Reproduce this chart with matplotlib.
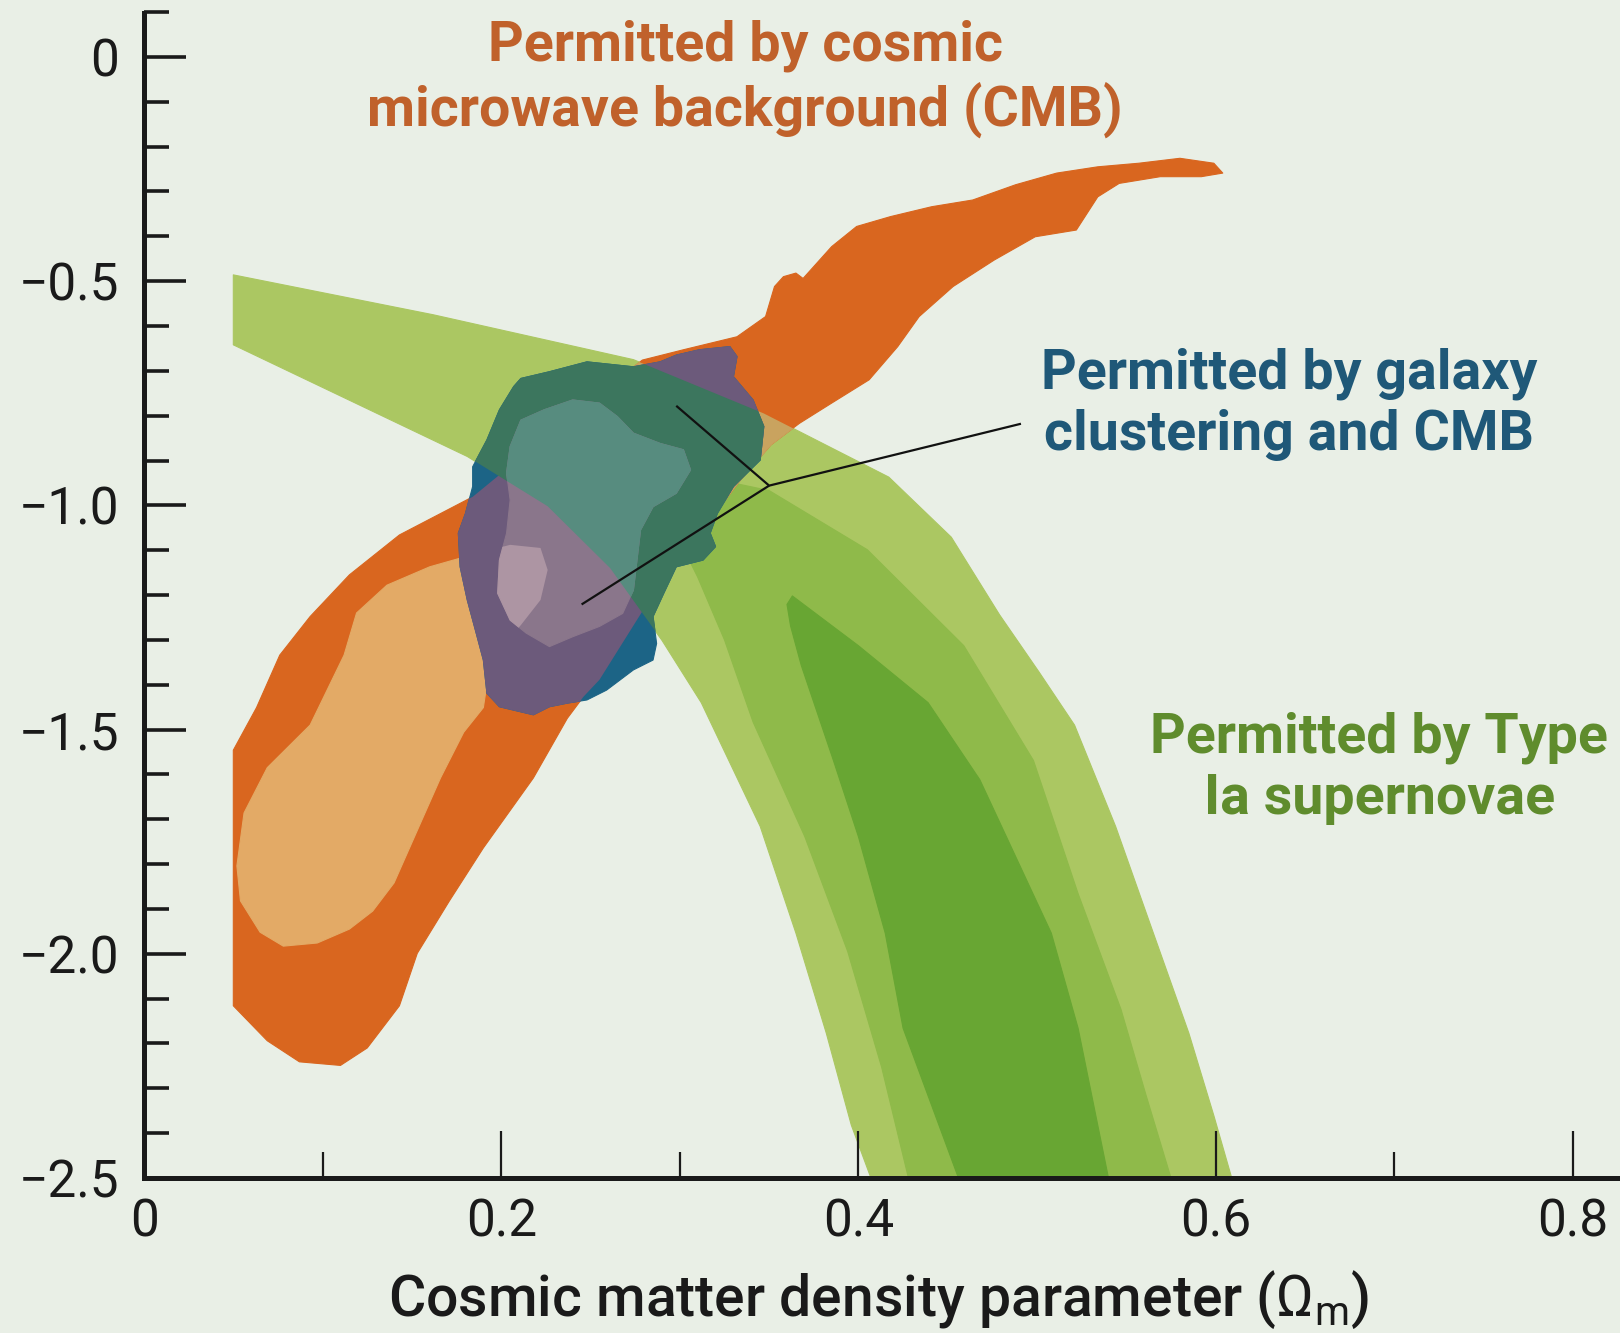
import matplotlib
matplotlib.use("Agg")
import matplotlib.pyplot as plt
from matplotlib.patches import Polygon
from matplotlib.ticker import FixedLocator, MultipleLocator

plt.rcParams["font.family"] = ["Roboto", "DejaVu Sans"]
plt.rcParams["mathtext.fontset"] = "custom"
plt.rcParams["mathtext.rm"] = "Roboto"
plt.rcParams["mathtext.it"] = "Roboto:italic"

# --- contour outlines (Omega_m, w) ---
sn_outer_x = [0.050, 0.162, 0.274, 0.347, 0.417, 0.452, 0.479, 0.501, 0.521, 0.544, 0.563,
              0.585, 0.599, 0.609, 0.612, 0.407, 0.407, 0.396, 0.382, 0.365, 0.345, 0.312,
              0.290, 0.261, 0.226, 0.181, 0.050]
sn_outer_y = [-0.486, -0.575, -0.675, -0.795, -0.937, -1.071, -1.244, -1.371, -1.490, -1.716,
              -1.930, -2.177, -2.361, -2.500, -2.600, -2.600, -2.500, -2.382, -2.177, -1.954,
              -1.716, -1.440, -1.301, -1.140, -1.002, -0.891, -0.642]

sn_mid_x = [0.266, 0.295, 0.350, 0.405, 0.459, 0.498, 0.523, 0.547, 0.561, 0.575, 0.577,
            0.428, 0.428, 0.413, 0.394, 0.370, 0.341, 0.325, 0.310, 0.290]
sn_mid_y = [-0.910, -0.921, -0.967, -1.099, -1.313, -1.569, -1.866, -2.124, -2.315, -2.500,
            -2.600, -2.600, -2.500, -2.253, -1.995, -1.739, -1.483, -1.300, -1.160, -1.000]

sn_inner_x = [0.363, 0.400, 0.439, 0.468, 0.488, 0.508, 0.523, 0.540, 0.541, 0.456, 0.456,
              0.425, 0.415, 0.400, 0.386, 0.368, 0.362, 0.360]
sn_inner_y = [-1.202, -1.313, -1.440, -1.612, -1.783, -1.954, -2.166, -2.500, -2.600, -2.600,
              -2.500, -2.166, -1.954, -1.739, -1.569, -1.357, -1.269, -1.221]

cmb_outer_x = [0.050, 0.063, 0.076, 0.093, 0.115, 0.143, 0.184, 0.233, 0.279, 0.302, 0.332,
               0.348, 0.353, 0.358, 0.365, 0.369, 0.385, 0.399, 0.418, 0.441, 0.464, 0.488,
               0.511, 0.534, 0.557, 0.580, 0.599, 0.604, 0.592, 0.569, 0.546, 0.534, 0.522,
               0.499, 0.476, 0.453, 0.434, 0.422, 0.406, 0.385, 0.367, 0.351, 0.334, 0.283,
               0.255, 0.246, 0.237, 0.218, 0.190, 0.171, 0.153, 0.143, 0.125, 0.110, 0.087,
               0.069, 0.050]
cmb_outer_y = [-1.546, -1.451, -1.334, -1.248, -1.155, -1.066, -0.981, -0.821, -0.676, -0.653,
               -0.624, -0.579, -0.512, -0.490, -0.482, -0.494, -0.423, -0.378, -0.356, -0.334,
               -0.319, -0.285, -0.259, -0.245, -0.237, -0.226, -0.237, -0.259, -0.267, -0.267,
               -0.282, -0.312, -0.386, -0.401, -0.453, -0.512, -0.579, -0.646, -0.720, -0.772,
               -0.817, -0.865, -0.943, -1.211, -1.389, -1.427, -1.475, -1.608, -1.764, -1.882,
               -1.999, -2.116, -2.210, -2.249, -2.241, -2.194, -2.116]

cmb_inner_x = [0.056, 0.052, 0.054, 0.065, 0.078, 0.097, 0.115, 0.128, 0.140, 0.153, 0.166,
               0.179, 0.190, 0.194, 0.211, 0.222, 0.226, 0.222, 0.205, 0.183, 0.160, 0.136,
               0.119, 0.112, 0.093, 0.069]
cmb_inner_y = [-1.686, -1.804, -1.882, -1.952, -1.983, -1.976, -1.945, -1.905, -1.842, -1.725,
               -1.608, -1.506, -1.451, -1.345, -1.267, -1.211, -1.144, -1.095, -1.088, -1.111,
               -1.137, -1.178, -1.240, -1.334, -1.490, -1.585]

gal_outer_x = [0.211, 0.227, 0.248, 0.274, 0.289, 0.298, 0.311, 0.328, 0.332, 0.330, 0.341,
               0.347, 0.345, 0.330, 0.321, 0.317, 0.320, 0.313, 0.298, 0.291, 0.285, 0.287,
               0.285, 0.274, 0.259, 0.248, 0.237, 0.227, 0.218, 0.199, 0.192, 0.190, 0.186,
               0.181, 0.177, 0.176, 0.180, 0.184, 0.184, 0.192, 0.199, 0.207]
gal_outer_y = [-0.717, -0.702, -0.680, -0.691, -0.680, -0.665, -0.653, -0.646, -0.668, -0.713,
               -0.765, -0.824, -0.899, -0.958, -1.018, -1.062, -1.092, -1.122, -1.137, -1.196,
               -1.248, -1.308, -1.345, -1.367, -1.412, -1.434, -1.441, -1.449, -1.467, -1.449,
               -1.419, -1.345, -1.285, -1.211, -1.137, -1.062, -1.018, -0.958, -0.914, -0.854,
               -0.787, -0.735]

gal_inner_x = [0.205, 0.211, 0.224, 0.240, 0.255, 0.265, 0.274, 0.289, 0.302, 0.306, 0.298,
               0.285, 0.278, 0.276, 0.274, 0.268, 0.255, 0.240, 0.227, 0.214, 0.205, 0.198,
               0.199, 0.203, 0.205, 0.203]
gal_inner_y = [-0.869, -0.810, -0.787, -0.765, -0.772, -0.802, -0.839, -0.862, -0.876, -0.921,
               -0.973, -1.003, -1.055, -1.122, -1.189, -1.241, -1.270, -1.293, -1.315, -1.285,
               -1.256, -1.196, -1.122, -1.062, -0.988, -0.928]

# leader line from the galaxy label: label end, fork, two targets
leader_x = [0.491, 0.350, 0.298, 0.350, 0.245]
leader_y = [-0.818, -0.956, -0.778, -0.956, -1.221]

x_ticks_major = [0.2, 0.4, 0.6, 0.8]
x_ticks_labels = ["0", "0.2", "0.4", "0.6", "0.8"]
y_ticks_major = [0, -0.5, -1.0, -1.5, -2.0, -2.5]
y_ticks_labels = ["0", "\u22120.5", "\u22121.0", "\u22121.5", "\u22122.0", "\u22122.5"]

bg = "#e9efe6"
ink = "#1a1a1a"

fig = plt.figure(figsize=(16.2, 13.33), dpi=100, facecolor=bg)
ax = fig.add_axes([0.0889, 0.1163, 0.9111, 0.8837])
ax.set_facecolor(bg)
ax.set_xlim(0, 0.8264)
ax.set_ylim(-2.5, 0.127)


def shape(xs, ys, color, z, clip=None):
    p = Polygon(list(zip(xs, ys)), closed=True, facecolor=color, edgecolor=color,
                linewidth=0.8, joinstyle="round", zorder=z)
    ax.add_patch(p)
    if clip is not None:
        p.set_clip_path(clip)
    return p


# supernova band
sn_outer = shape(sn_outer_x, sn_outer_y, "#abc762", 1)
shape(sn_mid_x, sn_mid_y, "#8fba4a", 2)
shape(sn_inner_x, sn_inner_y, "#68a633", 3)

# CMB
cmb_outer = shape(cmb_outer_x, cmb_outer_y, "#d9661f", 4)
cmb_inner = shape(cmb_inner_x, cmb_inner_y, "#e3aa66", 5)
shape(cmb_outer_x, cmb_outer_y, "#c9a35f", 5, clip=sn_outer)

# galaxy clustering + CMB, tinted by what lies under it
shape(gal_outer_x, gal_outer_y, "#1c6486", 6)
shape(gal_outer_x, gal_outer_y, "#6c5a7b", 7, clip=cmb_outer)
shape(gal_outer_x, gal_outer_y, "#3c765e", 8, clip=sn_outer)
shape(gal_inner_x, gal_inner_y, "#8a768b", 9)
shape(gal_inner_x, gal_inner_y, "#ad95a3", 10, clip=cmb_inner)
shape(gal_inner_x, gal_inner_y, "#578c7f", 11, clip=sn_outer)

ax.plot(leader_x[:3], leader_y[:3], color="#111111", lw=1.6, zorder=12,
        solid_capstyle="butt")
ax.plot(leader_x[3:], leader_y[3:], color="#111111", lw=1.6, zorder=12,
        solid_capstyle="butt")

# labels
lab = dict(ha="center", va="center", fontsize=40, fontweight="bold", linespacing=1.22,
           zorder=13)
ax.text(0.3365, -0.048, "Permitted by cosmic\nmicrowave background (CMB)",
        color="#c0612b", **lab)
ax.text(0.641, -0.774, "Permitted by galaxy\nclustering and CMB", color="#1f5878", **lab)
ax.text(0.6915, -1.586, "Permitted by Type\nIa supernovae", color="#5f8c2d", **lab)
ax.text(0.498, -0.1036, r"Cosmic matter density parameter ($\mathit{Ω}_\mathrm{m}$)",
        transform=ax.transAxes, ha="center", va="center", fontsize=41, color=ink,
        fontweight="medium")

# axes
for s in ["top", "right"]:
    ax.spines[s].set_visible(False)
ax.spines["left"].set_bounds(-2.5, 0.098)
for s in ["left", "bottom"]:
    ax.spines[s].set_linewidth(3.6)
    ax.spines[s].set_color(ink)
    ax.spines[s].set_zorder(14)

ax.xaxis.set_major_locator(FixedLocator([0] + x_ticks_major))
ax.set_xticklabels(x_ticks_labels)
ax.xaxis.set_minor_locator(FixedLocator([0.1, 0.3, 0.5, 0.7]))
ax.yaxis.set_major_locator(FixedLocator(y_ticks_major))
ax.set_yticklabels(y_ticks_labels)
ax.yaxis.set_minor_locator(MultipleLocator(0.1))

ax.tick_params(axis="x", which="major", direction="in", length=34, width=1.6,
               color=ink, labelsize=37, pad=14, labelcolor=ink)
ax.tick_params(axis="x", which="minor", direction="in", length=19, width=1.6, color=ink)
ax.tick_params(axis="y", which="major", direction="in", length=30, width=2.6,
               color=ink, labelsize=37, pad=18, labelcolor=ink)
ax.tick_params(axis="y", which="minor", direction="in", length=18, width=2.6, color=ink)
for t in ax.xaxis.get_major_ticks() + ax.yaxis.get_major_ticks() + \
        ax.xaxis.get_minor_ticks() + ax.yaxis.get_minor_ticks():
    t.tick1line.set_zorder(14)

fig.savefig("out.png", dpi=100, facecolor=bg)
